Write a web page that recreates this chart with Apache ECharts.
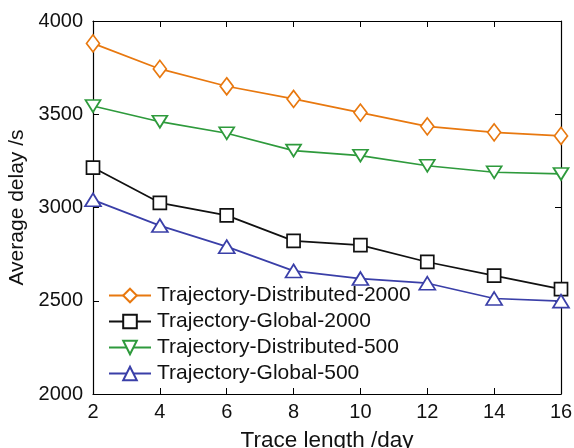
<!DOCTYPE html>
<html>
<head>
<meta charset="utf-8">
<script src="https://cdn.jsdelivr.net/npm/echarts@6/dist/echarts.min.js"></script>
<style>html,body{margin:0;padding:0;background:#fff}#c{width:574px;height:448px}</style>
</head>
<body>
<div id="c"></div>
<script>
const xValues = [2, 4, 6, 8, 10, 12, 14, 16];
const distributed2000 = [3880, 3743, 3650, 3582, 3509, 3435, 3403, 3384];
const global2000 = [3214, 3025, 2958, 2821, 2798, 2708, 2635, 2562];
const distributed500 = [3544, 3460, 3398, 3305, 3278, 3224, 3189, 3180];
const global500 = [3041, 2903, 2790, 2660, 2619, 2594, 2512, 2498];
const seriesNames = ['Trajectory-Distributed-2000', 'Trajectory-Global-2000', 'Trajectory-Distributed-500', 'Trajectory-Global-500'];

const font = 'Liberation Sans, Arial, Helvetica, sans-serif';
const pair = arr => xValues.map((x, i) => [x, arr[i]]);

const chart = echarts.init(document.getElementById('c'), null, {renderer: 'canvas'});
const axisCommon = {
  axisLine: {show: true, lineStyle: {color: '#000', width: 1.2}},
  axisTick: {show: true, inside: true, length: 6, lineStyle: {color: '#000', width: 1}},
  splitLine: {show: false}
};
function mk(name, data, color, symbol, size, rotate) {
  return {
    name: name, type: 'line', data: pair(data), xAxisIndex: 0, yAxisIndex: 0,
    symbol: symbol, symbolSize: size, symbolRotate: rotate || 0, showAllSymbol: true,
    lineStyle: {color: color, width: 1.7},
    itemStyle: {color: '#fff', borderColor: color, borderWidth: 1.7},
    emphasis: {disabled: true}, z: 3
  };
}
chart.setOption({
  animation: false,
  backgroundColor: '#fff',
  grid: {left: 93, right: 13, top: 21, bottom: 54, show: false, containLabel: false, outerBoundsMode: 'none'},
  legend: {
    show: true, orient: 'vertical', left: 103, top: 280, itemGap: 5,
    itemWidth: 42, itemHeight: 17, padding: 5,
    textStyle: {fontFamily: font, fontSize: 21, color: '#111', padding: [0,0,0,1]},
    data: seriesNames
  },
  xAxis: [
    Object.assign({type: 'value', min: 2, max: 16, interval: 2,
      name: 'Trace length /day', nameLocation: 'middle', nameGap: 35,
      nameTextStyle: {fontFamily: font, fontSize: 22.5, color: '#111'},
      axisLabel: {fontFamily: font, fontSize: 20, color: '#111', margin: 8}}, axisCommon),
    Object.assign({type: 'value', min: 2, max: 16, interval: 2, position: 'top',
      axisLabel: {show: false}}, axisCommon)
  ],
  yAxis: [
    Object.assign({type: 'value', min: 2000, max: 4000, interval: 500,
      name: 'Average delay /s', nameLocation: 'middle', nameGap: 61,
      nameTextStyle: {fontFamily: font, fontSize: 21, color: '#111'},
      axisLabel: {fontFamily: font, fontSize: 20, color: '#111', margin: 10, formatter: v => String(v)}}, axisCommon),
    Object.assign({type: 'value', min: 2000, max: 4000, interval: 500, position: 'right',
      axisLabel: {show: false}}, axisCommon)
  ],
  series: [
    mk(seriesNames[0], distributed2000, '#E8780F', 'diamond', [13, 17]),
    mk(seriesNames[1], global2000, '#111111', 'rect', 13),
    mk(seriesNames[2], distributed500, '#2E9A3C', 'triangle', [15, 12], 180),
    mk(seriesNames[3], global500, '#3A3FA8', 'triangle', [16, 13])
  ]
});
</script>
</body>
</html>
